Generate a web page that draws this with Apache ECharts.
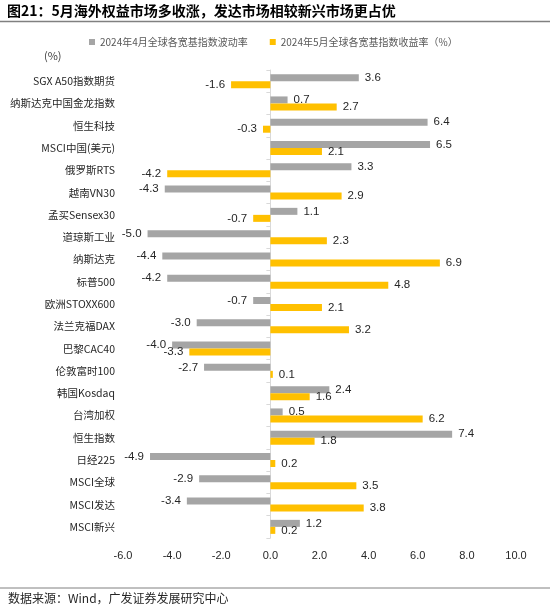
<html lang="zh">
<head>
  <meta charset="UTF-8">
  <title>图21</title>
  <style>
    *{ margin: 0; padding: 0; }
    body{ background: #fff; }
    #main{ width: 550px; height: 610px; }
  </style>
</head>
<body>
  <div id="main"></div>
  <script src="https://cdn.jsdelivr.net/npm/echarts@6/dist/echarts.min.js"></script>
  <script type="text/javascript">
  // 指数名称（自上而下）
  var categories = ['SGX A50指数期货', '纳斯达克中国金龙指数', '恒生科技', 'MSCI中国(美元)', '俄罗斯RTS',
    '越南VN30', '孟买Sensex30', '道琼斯工业', '纳斯达克', '标普500', '欧洲STOXX600', '法兰克福DAX',
    '巴黎CAC40', '伦敦富时100', '韩国Kosdaq', '台湾加权', '恒生指数', '日经225', 'MSCI全球', 'MSCI发达', 'MSCI新兴']
  var aprValues = [3.6, 0.7, 6.4, 6.5, 3.3, -4.3, 1.1, -5.0, -4.4, -4.2, -0.7, -3.0, -4.0, -2.7, 2.4, 0.5, 7.4, -4.9, -2.9, -3.4, 1.2]
  var mayValues = [-1.6, 2.7, -0.3, 2.1, -4.2, 2.9, -0.7, 2.3, 6.9, 4.8, 2.1, 3.2, -3.3, 0.1, 1.6, 6.2, 1.8, 0.2, 3.5, 3.8, 0.2]
  var xTicks = { min: -6, max: 10, interval: 2 }
  var seriesNames = ['2024年4月全球各宽基指数波动率', '2024年5月全球各宽基指数收益率（%）']

  // 负值标签放左边，正值放右边
  function withLabels(arr) {
    return arr.map(function (v) {
      return { value: v, label: { position: v < 0 ? 'left' : 'right' } }
    })
  }

  var labelStyle = {
    show: true,
    distance: 6,
    color: '#262626',
    fontSize: 11.5,
    fontFamily: 'Liberation Sans, Arial, sans-serif',
    formatter: function (p) { return p.value.toFixed(1) }
  }

  var myChart = echarts.init(document.getElementById('main'))
  var option = {
    animation: false,
    graphic: [
      { type: 'text', left: 7, top: 4,
        style: { text: '图21：5月海外权益市场多收涨，发达市场相较新兴市场更占优', fontSize: 14, fontWeight: 'bold',
          fill: '#000', fontFamily: 'Noto Sans CJK SC' } },
      { type: 'line', shape: { x1: 0, y1: 21.5, x2: 550, y2: 21.5 }, style: { stroke: '#808080', lineWidth: 1.5 } },
      { type: 'text', left: 44, top: 50,
        style: { text: '(%)', fontSize: 11, fill: '#404040', fontFamily: 'Noto Sans CJK SC' } },
      { type: 'line', shape: { x1: 0, y1: 588, x2: 550, y2: 588 }, style: { stroke: '#808080', lineWidth: 1 } },
      { type: 'text', left: 8, top: 592,
        style: { text: '数据来源：Wind，广发证券发展研究中心', fontSize: 12, fill: '#262626', fontFamily: 'Noto Sans CJK SC' } }
    ],
    legend: {
      top: 32,
      left: 84,
      itemWidth: 6,
      itemHeight: 6,
      itemGap: 22,
      icon: 'rect',
      textStyle: { fontSize: 10, color: '#595959', fontFamily: 'Noto Sans CJK SC' },
      data: seriesNames
    },
    grid: { left: 123, right: 34, top: 70, bottom: 72, containLabel: false },
    xAxis: {
      type: 'value',
      min: xTicks.min,
      max: xTicks.max,
      interval: xTicks.interval,
      splitLine: { show: false },
      axisLine: { show: false },
      axisTick: { show: false },
      axisLabel: {
        margin: 12,
        fontSize: 11,
        color: '#262626',
        fontFamily: 'Liberation Sans, Arial, sans-serif',
        formatter: function (v) { return v.toFixed(1) }
      }
    },
    yAxis: [
      {
        type: 'category',
        inverse: true,
        data: categories,
        axisLine: { show: false, onZero: false },
        axisTick: { show: false },
        axisLabel: { margin: 8, fontSize: 10.5, color: '#262626', fontFamily: 'Noto Sans CJK SC' }
      },
      {
        type: 'category',
        inverse: true,
        position: 'left',
        data: categories,
        axisLine: { show: true, onZero: true, lineStyle: { color: '#D9D9D9' } },
        axisTick: { show: true, length: 4, lineStyle: { color: '#D9D9D9' } },
        axisLabel: { show: false }
      }
    ],
    series: [
      {
        name: seriesNames[0],
        type: 'bar',
        barWidth: 7,
        barGap: '0%',
        itemStyle: { color: '#A5A5A5' },
        label: labelStyle,
        data: withLabels(aprValues)
      },
      {
        name: seriesNames[1],
        type: 'bar',
        barWidth: 7,
        barGap: '0%',
        itemStyle: { color: '#FFC000' },
        label: labelStyle,
        data: withLabels(mayValues)
      }
    ]
  }
  myChart.setOption(option)
  </script>
</body>
</html>
